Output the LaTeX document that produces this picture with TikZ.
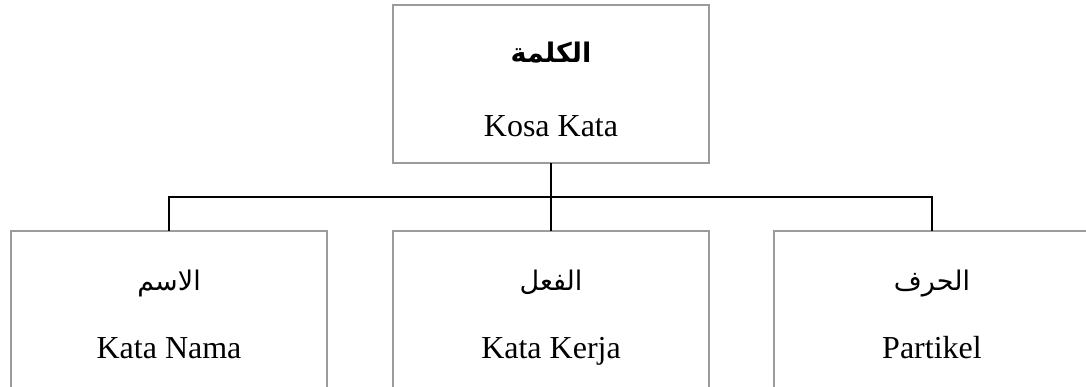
\documentclass[tikz,border=0pt]{standalone}
\usepackage{fontspec}
\setmainfont{Liberation Serif}
\newfontfamily\arabicfont[Script=Arabic]{DejaVu Sans}
\TeXXeTstate=1
\definecolor{boxgray}{HTML}{9C9C9C}
\begin{document}
\begin{tikzpicture}[x=1pt,y=-1pt,
  box/.style={draw=boxgray, line width=1.4pt, minimum width=316pt, minimum height=158pt, anchor=north west, inner sep=0pt, outer sep=0pt},
  lat/.style={font=\fontsize{32}{36}\selectfont, anchor=base, inner sep=0pt},
  ar/.style={font=\arabicfont\fontsize{27}{32}\selectfont, anchor=base, inner sep=0pt},
  arb/.style={font=\arabicfont\bfseries\fontsize{27}{32}\selectfont, anchor=base, inner sep=0pt},
  link/.style={line width=2.4pt, black}]
\useasboundingbox (0,0) rectangle (1086,387);
\clip (0,0) rectangle (1086,387);
\fill[white] (0,0) rectangle (1086,387);
\node[box] (top) at (393,5) {};
\node[box] (left) at (11,231) {};
\node[box] (mid) at (393,231) {};
\node[box] (right) at (774,231) {};
\coordinate (bus) at (551,197);
\draw[link] (top.south) -- (mid.north);
\draw[link] (left.north) |- (bus) -| (right.north);
\node[arb] (a1) at (551,63) {\beginR الكلمة\endR};
\node[lat] (t1) at (551,137) {Kosa Kata};
\node[ar] (a2) at (169,290) {\beginR الاسم\endR};
\node[lat] (t2) at (169,358) {Kata Nama};
\node[ar] (a3) at (551,290) {\beginR الفعل\endR};
\node[lat] (t3) at (551,358) {Kata Kerja};
\node[ar] (a4) at (932,290) {\beginR الحرف\endR};
\node[lat] (t4) at (932,358) {Partikel};
\end{tikzpicture}
\end{document}
